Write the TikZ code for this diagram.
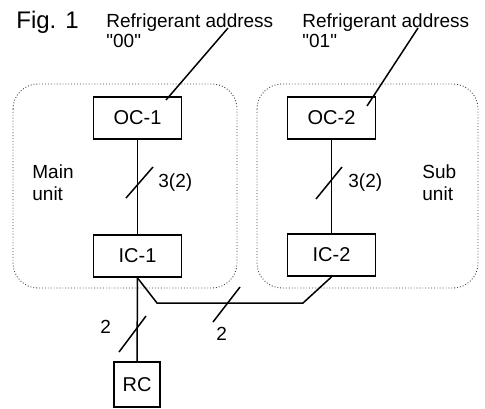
\documentclass[tikz,border=0pt]{standalone}
\usepackage{fontspec}
\setmainfont{Liberation Sans}

\tikzset{
    unitbox/.style={draw, line width=0.9pt, minimum width=44pt, minimum height=21pt, inner sep=0pt, font=\fontsize{10}{12}\selectfont},
    groupbox/.style={densely dotted, line width=0.45pt, black!75, rounded corners=12.5pt},
    wire/.style={line width=0.75pt},
    lbl/.style={inner sep=0pt, anchor=base west, align=left, font=\fontsize{9.5}{11}\selectfont},
}

\begin{document}
\begin{tikzpicture}[x=0.5pt, y=-0.5pt]
    \useasboundingbox (0,0) rectangle (485,408);

    % main and sub unit
    \draw [groupbox] (13,84) rectangle (237,288);
    \draw [groupbox] (257,84) rectangle (478,288);

    \node [unitbox] (OC1) at (137.5,118) {OC-1};
    \node [unitbox] (OC2) at (331.5,118) {OC-2};
    \node [unitbox] (IC1) at (137.5,256) {IC-1};
    \node [unitbox] (IC2) at (331.5,255) {IC-2};
    \node [unitbox, minimum width=23pt, minimum height=22.5pt] (RC) at (137,384.5) {RC};

    % texts (base = last line)
    \node [lbl, font=\fontsize{12}{14}\selectfont] (fig) at (16,28) {Fig. 1};
    \node [lbl, font=\fontsize{9.5}{10}\selectfont] (addr1) at (106,47) {Refrigerant address\\\textquotedbl 00\textquotedbl};
    \node [lbl, font=\fontsize{9.5}{10}\selectfont] (addr2) at (302,47) {Refrigerant address\\\textquotedbl 01\textquotedbl};
    \node [lbl] (main) at (32,200) {Main\\unit};
    \node [lbl] (sub) at (422,200) {Sub\\unit};
    \node [lbl] (n1) at (158,187) {3(2)};
    \node [lbl] (n2) at (348,187) {3(2)};
    \node [lbl] (n3) at (100,333) {2};
    \node [lbl] (n4) at (216,340) {2};

    % leaders
    \coordinate (from1) at (228,28);
    \coordinate (to1) at (166,100);
    \coordinate (from2) at (418,28);
    \coordinate (to2) at (367,106);
    \draw [wire] (from1) -- (to1);
    \draw [wire] (from2) -- (to2);

    % wiring
    \coordinate (busL) at (157,303);
    \coordinate (busR) at (303,303);
    \draw [wire] (OC1) -- (IC1);
    \draw [wire] (OC2) -- (IC2);
    \draw [wire] (IC1) -- (RC);
    \draw [wire] (IC1.south) -- (busL) -- (busR) -- (IC2.south);

    % wire counts
    \draw [wire] (126,198) -- (153,167);
    \draw [wire] (316,199) -- (342,167);
    \draw [wire] (119,352) -- (146,316);
    \draw [wire] (213,322) -- (240,287);

\end{tikzpicture}
\end{document}
